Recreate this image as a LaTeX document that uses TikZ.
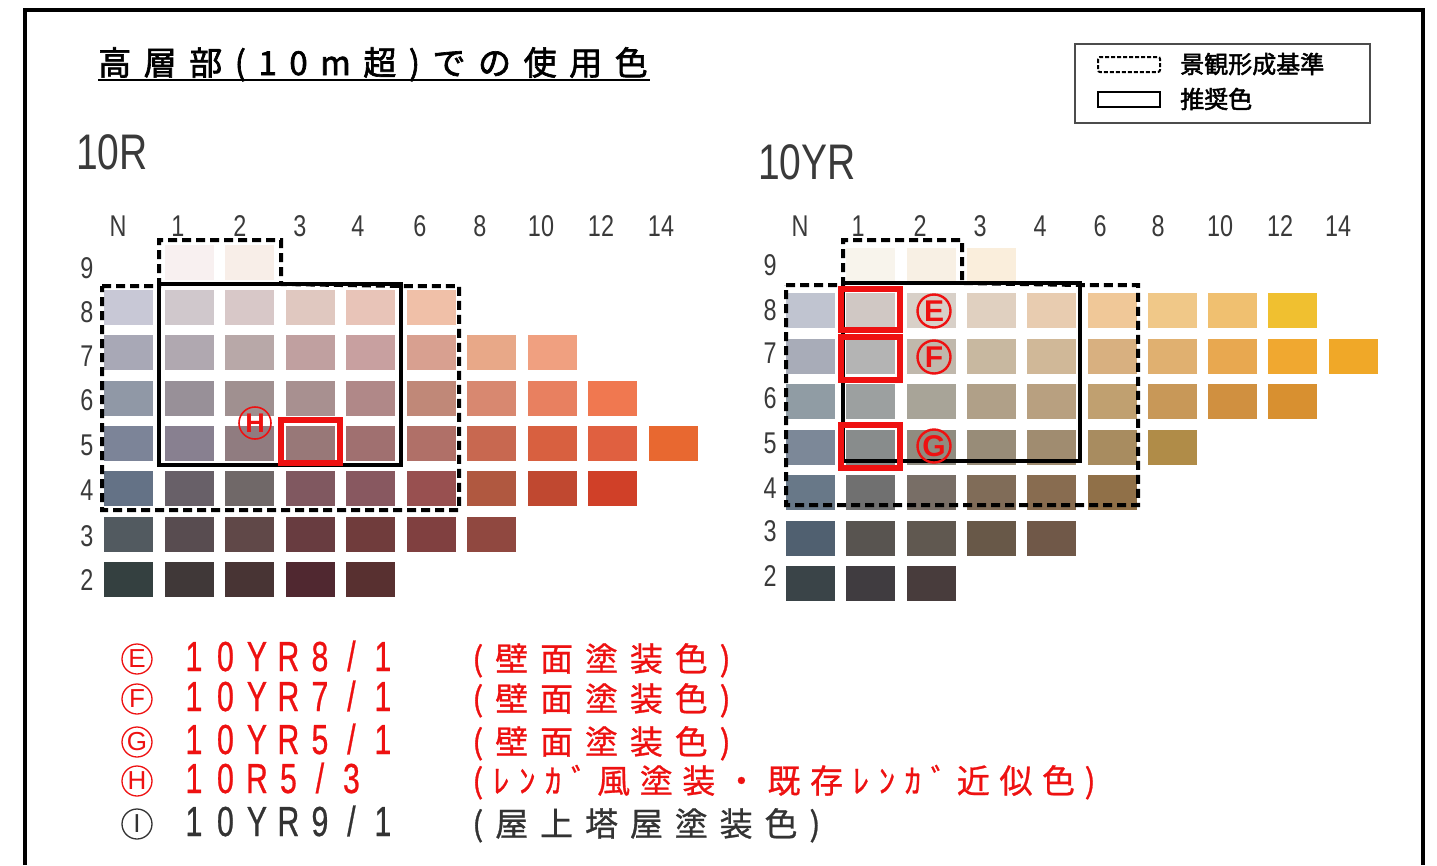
\documentclass[tikz,border=0pt]{standalone}
\usepackage{fontspec}
\setmainfont{Liberation Sans}
\newfontfamily\jp{Noto Sans CJK JP}
\newfontfamily\jpsp{Noto Sans CJK JP}[LetterSpace=36,FakeBold=0.8]
\newfontfamily\jpspH{Noto Sans CJK JP}[LetterSpace=29,FakeBold=0.8]
\newfontfamily\jptitle{Noto Sans CJK JP}[LetterSpace=38,FakeBold=2]
\newfontfamily\jpb{Noto Sans CJK JP}[FakeBold=2]
\newfontfamily\narrow{Liberation Sans}[FakeStretch=0.78]
\newfontfamily\codefont{Liberation Sans}[FakeStretch=0.72,FakeBold=0.6]
\makeatletter
\newcommand\spreadchars[1]{\@tfor\spch:=#1\do{\makebox[31.5pt][c]{\spch}}}
\makeatother
\newcommand\spreadcode[1]{\expandafter\spreadchars\expandafter{#1}}
\definecolor{redmark}{HTML}{EE1111}
\definecolor{darktext}{HTML}{333333}
\definecolor{labelgray}{HTML}{3A3A3A}
\begin{document}
\begin{tikzpicture}[x=1pt,y=-1pt,
  frameline/.style={line width=4pt,black},
  guide/.style={line width=4pt,black,dash pattern=on 9pt off 5pt},
  recbox/.style={line width=4pt,black},
  redbox/.style={line width=5.5pt,redmark},
  axislabel/.style={inner sep=0pt,text=labelgray,font=\narrow\fontsize{30}{30}\selectfont},
  charttitle/.style={inner sep=0pt,anchor=west,text=labelgray,font=\narrow\fontsize{50}{50}\selectfont},
  chartmark/.style={circle,draw=redmark,line width=2.4pt,minimum size=33pt,inner sep=0pt,text=redmark,font=\bfseries\fontsize{30}{30}\selectfont},
  listmark/.style={circle,draw,line width=1.3pt,minimum size=30pt,inner sep=0pt,font=\fontsize{26}{26}\selectfont},
  listcode/.style={inner sep=0pt,anchor=base west,font=\codefont\fontsize{42}{42}\selectfont},
  listtext/.style={inner sep=0pt,anchor=base west,font=\jpsp\fontsize{33}{33}\selectfont},
  legendtext/.style={inner sep=0pt,anchor=west,font=\jpb\fontsize{24}{24}\selectfont}
]
\useasboundingbox (0,0) rectangle (1437,865);
\fill[white] (0,0) rectangle (1437,865);

% outer frame (open at bottom)
\draw[frameline] (25,865) -- (25,10) -- (1423,10) -- (1423,865);

% title
\node[inner sep=0pt,anchor=base west,font=\jptitle\fontsize{33}{33}\selectfont] (title) at (98,75) {高層部(10m超)での使用色};
\draw[line width=2pt] (98,80) -- (650,80);

% legend
\draw[line width=1.5pt,black!70] (1075,44) rectangle (1370,123);
\draw[line width=2pt,dash pattern=on 4pt off 2pt,rounded corners=2pt] (1098,57) rectangle (1160,72);
\draw[line width=2.5pt] (1098,92) rectangle (1160,107);
\node[legendtext] (lg1) at (1180,64) {景観形成基準};
\node[legendtext] (lg2) at (1180,99) {推奨色};

% chart titles
\node[charttitle] (t10r) at (76,152) {10R};
\node[charttitle] (t10yr) at (758,162) {10YR};

% ---------------- left chart 10R ----------------
\foreach \c/\r/\h in {
 1/9/F8F0F0, 2/9/F8EEE8,
 0/8/C8C8D6, 1/8/D0C8CC, 2/8/D8C8C8, 3/8/E0C8C0, 4/8/E8C4B8, 5/8/F0C0A8,
 0/7/A8A8B6, 1/7/B0A8B0, 2/7/B8A8A8, 3/7/C0A0A0, 4/7/C8A0A0, 5/7/D8A090, 6/7/E8A888, 7/7/F0A080,
 0/6/9098A6, 1/6/989098, 2/6/A09090, 3/6/A89090, 4/6/B08888, 5/6/C08878, 6/6/D88870, 7/6/E88060, 8/6/F07850,
 0/5/7C8498, 1/5/888090, 2/5/907C80, 3/5/987878, 4/5/A07070, 5/5/B07068, 6/5/C86850, 7/5/D86040, 8/5/E06040, 9/5/E86830,
 0/4/647286, 1/4/686068, 2/4/706868, 3/4/805860, 4/4/885860, 5/4/985050, 6/4/B05840, 7/4/C04830, 8/4/D04028,
 0/3/525A60, 1/3/584C50, 2/3/604848, 3/3/683C40, 4/3/703C3C, 5/3/804040, 6/3/904840,
 0/2/344040, 1/2/403838, 2/2/483434, 3/2/502830, 4/2/583030}
 {\definecolor{sw}{HTML}{\h}
  \fill[sw] ({104+60.5*\c},{290+45.3*(8-\r)}) rectangle ++(49,35);}

\foreach \t/\x [count=\i] in {N/118,1/178,2/240,3/300,4/358,6/420,8/480,10/541,12/601,14/661}
  \node[axislabel] (lc\i) at (\x,226) {\t};
\foreach \t/\y in {9/268,8/312,7/356,6/400,5/445,4/490,3/536,2/580}
  \node[axislabel] (lr\t) at (87,\y) {\t};

\draw[guide] (102,286) -- (159,286) -- (159,240) -- (281,240) -- (281,284)
  -- (401,286) -- (459,286) -- (459,510) -- (102,510) -- cycle;
\draw[recbox] (159,284) rectangle (401,465);
\draw[redbox] (281,420) rectangle (340,463);
\node[chartmark,line width=1.6pt,minimum size=32pt,font=\bfseries\fontsize{27}{27}\selectfont] (mH) at (255,423) {H};

% ---------------- right chart 10YR ----------------
\foreach \c/\r/\h in {
 1/9/F8F4EC, 2/9/F8F0E4, 3/9/FAEEDC,
 0/8/C0C4D0, 1/8/D0C8C4, 2/8/D8D0C8, 3/8/E0D0C0, 4/8/E8CCB0, 5/8/F0C898, 6/8/F0C888, 7/8/F0C070, 8/8/F0C030,
 0/7/A8ACB8, 1/7/B4B4B4, 2/7/C0B8AC, 3/7/C8B8A0, 4/7/D0B898, 5/7/D8B080, 6/7/E0B070, 7/7/E8A850, 8/7/F0A830, 9/7/F0A828,
 0/6/909CA4, 1/6/9CA0A0, 2/6/A8A498, 3/6/B0A088, 4/6/B8A080, 5/6/C0A070, 6/6/C89858, 7/6/D09040, 8/6/D89030,
 0/5/7C8898, 1/5/888C8C, 2/5/908C80, 3/5/988C78, 4/5/A08C70, 5/5/A88C60, 6/5/B08C48,
 0/4/687888, 1/4/707070, 2/4/786E66, 3/4/806C58, 4/4/886C50, 5/4/907048,
 0/3/506070, 1/3/585450, 2/3/605850, 3/3/685848, 4/3/705848,
 0/2/3A4448, 1/2/403C40, 2/2/483C3C}
 {\definecolor{sw}{HTML}{\h}
  \fill[sw] ({786+60.3*\c},{293+45.5*(8-\r)}) rectangle ++(49,35);}

\foreach \t/\x [count=\i] in {N/800,1/858,2/920,3/980,4/1040,6/1100,8/1158,10/1220,12/1280,14/1338}
  \node[axislabel] (rc\i) at (\x,226) {\t};
\foreach \t/\y in {9/265,8/310,7/353,6/398,5/443,4/488,3/531,2/576}
  \node[axislabel] (rr\t) at (770,\y) {\t};

\draw[guide] (786,285) -- (843,285) -- (843,240) -- (962,240) -- (962,283)
  -- (1080,285) -- (1138,285) -- (1138,505) -- (786,505) -- cycle;
\draw[recbox] (843,283) rectangle (1080,461);
\draw[redbox] (841,289) rectangle (900,330);
\draw[redbox] (841,337) rectangle (900,380);
\draw[redbox] (841,425) rectangle (900,468);
\node[chartmark] (mE) at (934,311) {E};
\node[chartmark] (mF) at (934,357) {F};
\node[chartmark] (mG) at (934,446) {G};

% ---------------- list ----------------
\foreach \m/\code/\desc/\y/\col in {
  E/10YR8\slash1/(壁面塗装色)/671/redmark,
  F/10YR7\slash1/(壁面塗装色)/711/redmark,
  G/10YR5\slash1/(壁面塗装色)/754/redmark,
  I/10YR9\slash1/(屋上塔屋塗装色)/836/darktext}
{
  \node[listmark,draw=\col,text=\col] (lm\m) at (137,\y-12) {\m};
  \node[listcode,text=\col] (lcode\m) at (178,\y) {\spreadcode{\code}};
  \node[listtext,text=\col] (ldesc\m) at (472,\y) {\desc};
}
\node[listmark,draw=redmark,text=redmark] (lmH) at (137,781) {H};
\node[listcode,text=redmark] (lcodeH) at (178,793) {\spreadchars{10R5\slash3}};
\node[listtext,font=\jpspH\fontsize{33}{33}\selectfont,text=redmark] (ldescH) at (472,793) {(ﾚﾝｶﾞ風塗装・既存ﾚﾝｶﾞ近似色)};
\end{tikzpicture}
\end{document}
